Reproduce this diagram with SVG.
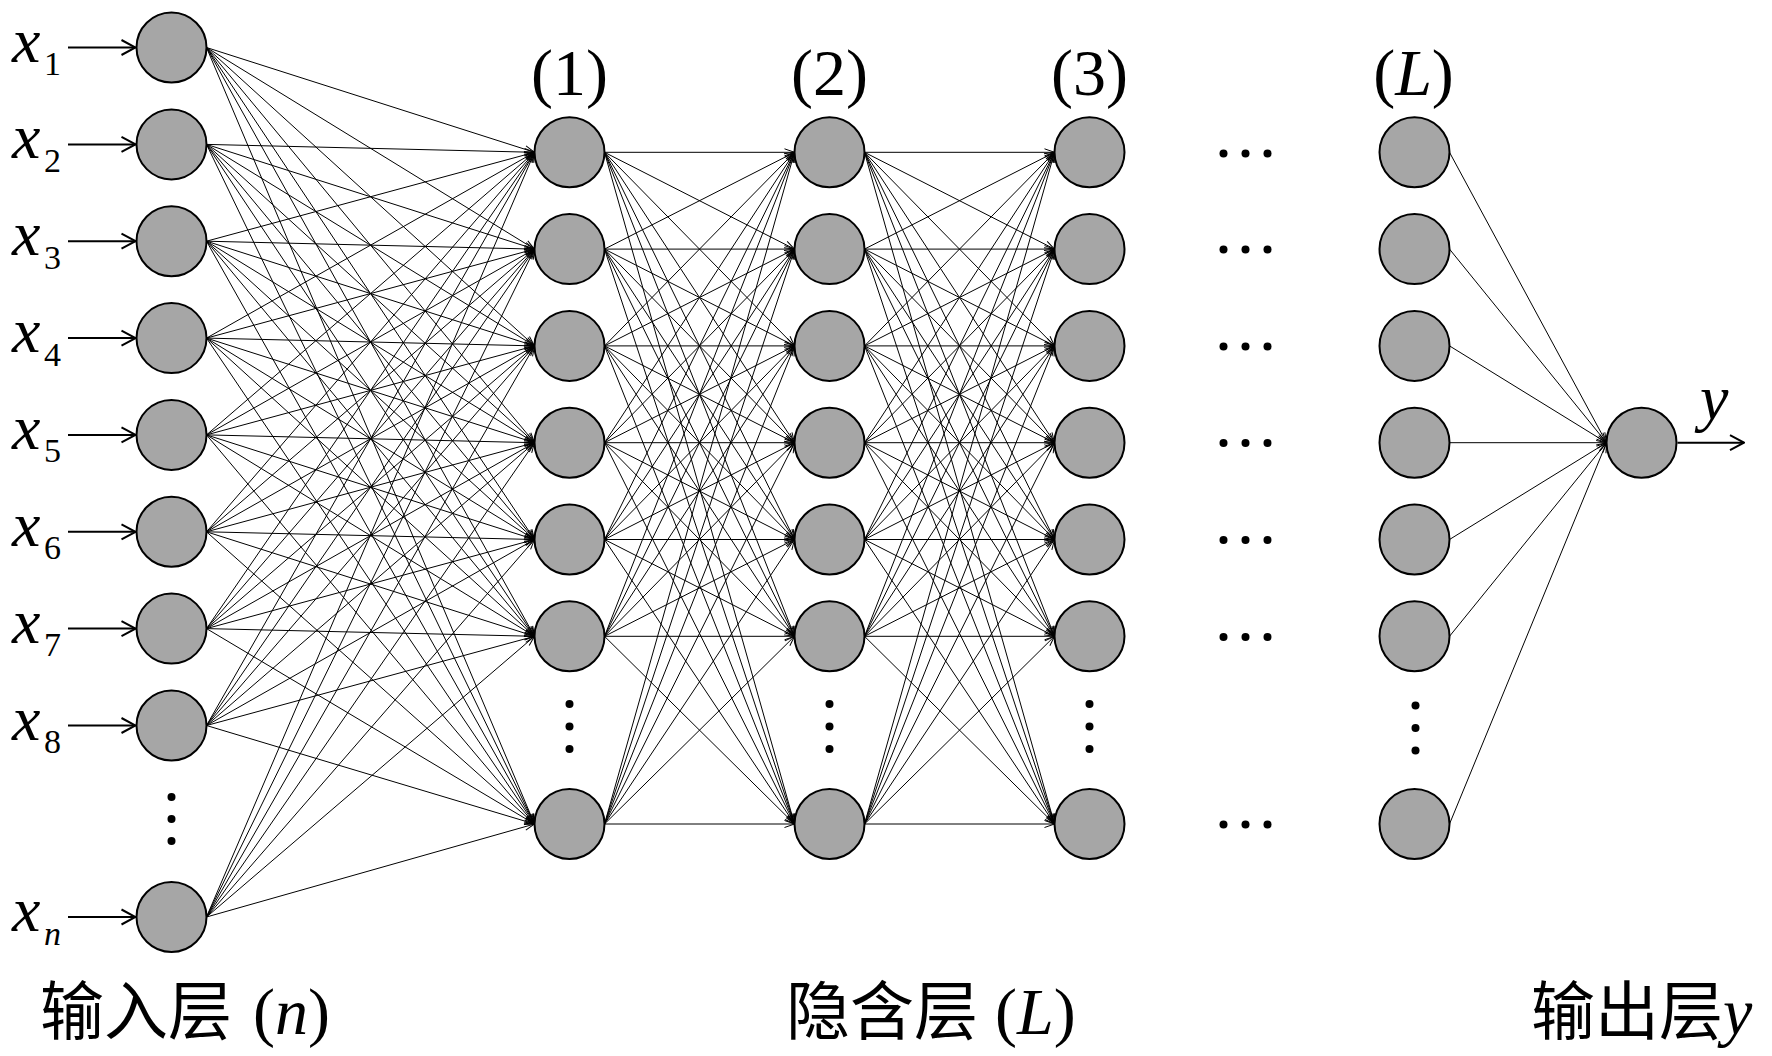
<svg xmlns="http://www.w3.org/2000/svg" width="1772" height="1056" viewBox="0 0 1772 1056">
<style>
.nd{fill:#a6a6a6;stroke:#000;stroke-width:2}
.cn path{fill:none;stroke:#000;stroke-width:1;marker-end:url(#ah)}
.ia{stroke:#000;stroke-width:2;marker-end:url(#ab)}
.lx{font-family:"Liberation Serif",serif;font-size:64px;font-style:italic;fill:#000}
.sb{font-family:"Liberation Serif",serif;font-size:34px;font-style:normal}
.hl{font-family:"Liberation Serif",serif;font-size:66px;fill:#000;text-anchor:middle}
.cjk{font-family:"Noto Sans CJK SC",sans-serif;font-size:64px}
.ser{font-family:"Liberation Serif",serif;font-size:66px}
.it{font-style:italic}
.dt{fill:#000}
</style>
<defs>
<marker id="ah" markerUnits="userSpaceOnUse" markerWidth="12" markerHeight="10" refX="11" refY="5" orient="auto" viewBox="0 0 12 10"><path d="M1,1.5 L11,5 L1,8.5" fill="none" stroke="#000" stroke-width="1"/></marker>
<marker id="ab" markerUnits="userSpaceOnUse" markerWidth="16" markerHeight="18" refX="15" refY="9" orient="auto" viewBox="0 0 16 18"><path d="M1,1.5 L15,9 L1,16.5" fill="none" stroke="#000" stroke-width="2"/></marker>
</defs>
<g id="connectors" class="cn">
<path d="M206.5,47.5 534.5,152.3"/><path d="M206.5,47.5 534.5,249.1"/><path d="M206.5,47.5 534.5,345.9"/><path d="M206.5,47.5 534.5,442.7"/><path d="M206.5,47.5 534.5,539.5"/><path d="M206.5,47.5 534.5,636.3"/><path d="M206.5,47.5 534.5,824"/>
<path d="M206.5,144.4 534.5,152.3"/><path d="M206.5,144.4 534.5,249.1"/><path d="M206.5,144.4 534.5,345.9"/><path d="M206.5,144.4 534.5,442.7"/><path d="M206.5,144.4 534.5,539.5"/><path d="M206.5,144.4 534.5,636.3"/><path d="M206.5,144.4 534.5,824"/>
<path d="M206.5,241.2 534.5,152.3"/><path d="M206.5,241.2 534.5,249.1"/><path d="M206.5,241.2 534.5,345.9"/><path d="M206.5,241.2 534.5,442.7"/><path d="M206.5,241.2 534.5,539.5"/><path d="M206.5,241.2 534.5,636.3"/><path d="M206.5,241.2 534.5,824"/>
<path d="M206.5,338.1 534.5,152.3"/><path d="M206.5,338.1 534.5,249.1"/><path d="M206.5,338.1 534.5,345.9"/><path d="M206.5,338.1 534.5,442.7"/><path d="M206.5,338.1 534.5,539.5"/><path d="M206.5,338.1 534.5,636.3"/><path d="M206.5,338.1 534.5,824"/>
<path d="M206.5,434.9 534.5,152.3"/><path d="M206.5,434.9 534.5,249.1"/><path d="M206.5,434.9 534.5,345.9"/><path d="M206.5,434.9 534.5,442.7"/><path d="M206.5,434.9 534.5,539.5"/><path d="M206.5,434.9 534.5,636.3"/><path d="M206.5,434.9 534.5,824"/>
<path d="M206.5,531.8 534.5,152.3"/><path d="M206.5,531.8 534.5,249.1"/><path d="M206.5,531.8 534.5,345.9"/><path d="M206.5,531.8 534.5,442.7"/><path d="M206.5,531.8 534.5,539.5"/><path d="M206.5,531.8 534.5,636.3"/><path d="M206.5,531.8 534.5,824"/>
<path d="M206.5,628.6 534.5,152.3"/><path d="M206.5,628.6 534.5,249.1"/><path d="M206.5,628.6 534.5,345.9"/><path d="M206.5,628.6 534.5,442.7"/><path d="M206.5,628.6 534.5,539.5"/><path d="M206.5,628.6 534.5,636.3"/><path d="M206.5,628.6 534.5,824"/>
<path d="M206.5,725.5 534.5,152.3"/><path d="M206.5,725.5 534.5,249.1"/><path d="M206.5,725.5 534.5,345.9"/><path d="M206.5,725.5 534.5,442.7"/><path d="M206.5,725.5 534.5,539.5"/><path d="M206.5,725.5 534.5,636.3"/><path d="M206.5,725.5 534.5,824"/>
<path d="M206.5,917 534.5,152.3"/><path d="M206.5,917 534.5,249.1"/><path d="M206.5,917 534.5,345.9"/><path d="M206.5,917 534.5,442.7"/><path d="M206.5,917 534.5,539.5"/><path d="M206.5,917 534.5,636.3"/><path d="M206.5,917 534.5,824"/>

<path d="M604.5,152.3 794.5,152.3"/><path d="M604.5,152.3 794.5,249.1"/><path d="M604.5,152.3 794.5,345.9"/><path d="M604.5,152.3 794.5,442.7"/><path d="M604.5,152.3 794.5,539.5"/><path d="M604.5,152.3 794.5,636.3"/><path d="M604.5,152.3 794.5,824"/>
<path d="M604.5,249.1 794.5,152.3"/><path d="M604.5,249.1 794.5,249.1"/><path d="M604.5,249.1 794.5,345.9"/><path d="M604.5,249.1 794.5,442.7"/><path d="M604.5,249.1 794.5,539.5"/><path d="M604.5,249.1 794.5,636.3"/><path d="M604.5,249.1 794.5,824"/>
<path d="M604.5,345.9 794.5,152.3"/><path d="M604.5,345.9 794.5,249.1"/><path d="M604.5,345.9 794.5,345.9"/><path d="M604.5,345.9 794.5,442.7"/><path d="M604.5,345.9 794.5,539.5"/><path d="M604.5,345.9 794.5,636.3"/><path d="M604.5,345.9 794.5,824"/>
<path d="M604.5,442.7 794.5,152.3"/><path d="M604.5,442.7 794.5,249.1"/><path d="M604.5,442.7 794.5,345.9"/><path d="M604.5,442.7 794.5,442.7"/><path d="M604.5,442.7 794.5,539.5"/><path d="M604.5,442.7 794.5,636.3"/><path d="M604.5,442.7 794.5,824"/>
<path d="M604.5,539.5 794.5,152.3"/><path d="M604.5,539.5 794.5,249.1"/><path d="M604.5,539.5 794.5,345.9"/><path d="M604.5,539.5 794.5,442.7"/><path d="M604.5,539.5 794.5,539.5"/><path d="M604.5,539.5 794.5,636.3"/><path d="M604.5,539.5 794.5,824"/>
<path d="M604.5,636.3 794.5,152.3"/><path d="M604.5,636.3 794.5,249.1"/><path d="M604.5,636.3 794.5,345.9"/><path d="M604.5,636.3 794.5,442.7"/><path d="M604.5,636.3 794.5,539.5"/><path d="M604.5,636.3 794.5,636.3"/><path d="M604.5,636.3 794.5,824"/>
<path d="M604.5,824 794.5,152.3"/><path d="M604.5,824 794.5,249.1"/><path d="M604.5,824 794.5,345.9"/><path d="M604.5,824 794.5,442.7"/><path d="M604.5,824 794.5,539.5"/><path d="M604.5,824 794.5,636.3"/><path d="M604.5,824 794.5,824"/>

<path d="M864.5,152.3 1054.5,152.3"/><path d="M864.5,152.3 1054.5,249.1"/><path d="M864.5,152.3 1054.5,345.9"/><path d="M864.5,152.3 1054.5,442.7"/><path d="M864.5,152.3 1054.5,539.5"/><path d="M864.5,152.3 1054.5,636.3"/><path d="M864.5,152.3 1054.5,824"/>
<path d="M864.5,249.1 1054.5,152.3"/><path d="M864.5,249.1 1054.5,249.1"/><path d="M864.5,249.1 1054.5,345.9"/><path d="M864.5,249.1 1054.5,442.7"/><path d="M864.5,249.1 1054.5,539.5"/><path d="M864.5,249.1 1054.5,636.3"/><path d="M864.5,249.1 1054.5,824"/>
<path d="M864.5,345.9 1054.5,152.3"/><path d="M864.5,345.9 1054.5,249.1"/><path d="M864.5,345.9 1054.5,345.9"/><path d="M864.5,345.9 1054.5,442.7"/><path d="M864.5,345.9 1054.5,539.5"/><path d="M864.5,345.9 1054.5,636.3"/><path d="M864.5,345.9 1054.5,824"/>
<path d="M864.5,442.7 1054.5,152.3"/><path d="M864.5,442.7 1054.5,249.1"/><path d="M864.5,442.7 1054.5,345.9"/><path d="M864.5,442.7 1054.5,442.7"/><path d="M864.5,442.7 1054.5,539.5"/><path d="M864.5,442.7 1054.5,636.3"/><path d="M864.5,442.7 1054.5,824"/>
<path d="M864.5,539.5 1054.5,152.3"/><path d="M864.5,539.5 1054.5,249.1"/><path d="M864.5,539.5 1054.5,345.9"/><path d="M864.5,539.5 1054.5,442.7"/><path d="M864.5,539.5 1054.5,539.5"/><path d="M864.5,539.5 1054.5,636.3"/><path d="M864.5,539.5 1054.5,824"/>
<path d="M864.5,636.3 1054.5,152.3"/><path d="M864.5,636.3 1054.5,249.1"/><path d="M864.5,636.3 1054.5,345.9"/><path d="M864.5,636.3 1054.5,442.7"/><path d="M864.5,636.3 1054.5,539.5"/><path d="M864.5,636.3 1054.5,636.3"/><path d="M864.5,636.3 1054.5,824"/>
<path d="M864.5,824 1054.5,152.3"/><path d="M864.5,824 1054.5,249.1"/><path d="M864.5,824 1054.5,345.9"/><path d="M864.5,824 1054.5,442.7"/><path d="M864.5,824 1054.5,539.5"/><path d="M864.5,824 1054.5,636.3"/><path d="M864.5,824 1054.5,824"/>

<path d="M1449.5,152.3 1606.5,442.7"/><path d="M1449.5,249.1 1606.5,442.7"/><path d="M1449.5,345.9 1606.5,442.7"/><path d="M1449.5,442.7 1606.5,442.7"/><path d="M1449.5,539.5 1606.5,442.7"/><path d="M1449.5,636.3 1606.5,442.7"/><path d="M1449.5,824 1606.5,442.7"/>
</g>
<g id="input-arrows">
<line class="ia" x1="68" y1="47.5" x2="135.5" y2="47.5"/>
<line class="ia" x1="68" y1="144.4" x2="135.5" y2="144.4"/>
<line class="ia" x1="68" y1="241.2" x2="135.5" y2="241.2"/>
<line class="ia" x1="68" y1="338.1" x2="135.5" y2="338.1"/>
<line class="ia" x1="68" y1="434.9" x2="135.5" y2="434.9"/>
<line class="ia" x1="68" y1="531.8" x2="135.5" y2="531.8"/>
<line class="ia" x1="68" y1="628.6" x2="135.5" y2="628.6"/>
<line class="ia" x1="68" y1="725.5" x2="135.5" y2="725.5"/>
<line class="ia" x1="68" y1="917" x2="135.5" y2="917"/>
<line class="ia" x1="1677.5" y1="442.7" x2="1744" y2="442.7"/>
</g>
<g id="input-layer">
<g id="in1"><circle class="nd" cx="171.5" cy="47.5" r="35"/><text class="lx" x="12" y="61.5">x<tspan class="sb" x="44" y="75">1</tspan></text></g>
<g id="in2"><circle class="nd" cx="171.5" cy="144.4" r="35"/><text class="lx" x="12" y="158.4">x<tspan class="sb" x="44" y="171.9">2</tspan></text></g>
<g id="in3"><circle class="nd" cx="171.5" cy="241.2" r="35"/><text class="lx" x="12" y="255.2">x<tspan class="sb" x="44" y="268.7">3</tspan></text></g>
<g id="in4"><circle class="nd" cx="171.5" cy="338.1" r="35"/><text class="lx" x="12" y="352.1">x<tspan class="sb" x="44" y="365.6">4</tspan></text></g>
<g id="in5"><circle class="nd" cx="171.5" cy="434.9" r="35"/><text class="lx" x="12" y="448.9">x<tspan class="sb" x="44" y="462.4">5</tspan></text></g>
<g id="in6"><circle class="nd" cx="171.5" cy="531.8" r="35"/><text class="lx" x="12" y="545.8">x<tspan class="sb" x="44" y="559.3">6</tspan></text></g>
<g id="in7"><circle class="nd" cx="171.5" cy="628.6" r="35"/><text class="lx" x="12" y="642.6">x<tspan class="sb" x="44" y="656.1">7</tspan></text></g>
<g id="in8"><circle class="nd" cx="171.5" cy="725.5" r="35"/><text class="lx" x="12" y="739.5">x<tspan class="sb" x="44" y="753">8</tspan></text></g>
<g id="inn"><circle class="nd" cx="171.5" cy="917" r="35"/><text class="lx" x="12" y="931">x<tspan class="sb it" x="44" y="944.5">n</tspan></text></g>
<g id="in-dots" class="dt"><circle cx="171.5" cy="797" r="4"/><circle cx="171.5" cy="819" r="4"/><circle cx="171.5" cy="841" r="4"/></g>
</g>
<g id="hidden1">
<text class="hl" x="569.5" y="95">(1)</text>
<circle class="nd" cx="569.5" cy="152.3" r="35"/><circle class="nd" cx="569.5" cy="249.1" r="35"/><circle class="nd" cx="569.5" cy="345.9" r="35"/><circle class="nd" cx="569.5" cy="442.7" r="35"/><circle class="nd" cx="569.5" cy="539.5" r="35"/><circle class="nd" cx="569.5" cy="636.3" r="35"/><circle class="nd" cx="569.5" cy="824" r="35"/>
<g class="dt"><circle cx="569.5" cy="704" r="4"/><circle cx="569.5" cy="726.5" r="4"/><circle cx="569.5" cy="749" r="4"/></g>
</g>
<g id="hidden2">
<text class="hl" x="829.5" y="95">(2)</text>
<circle class="nd" cx="829.5" cy="152.3" r="35"/><circle class="nd" cx="829.5" cy="249.1" r="35"/><circle class="nd" cx="829.5" cy="345.9" r="35"/><circle class="nd" cx="829.5" cy="442.7" r="35"/><circle class="nd" cx="829.5" cy="539.5" r="35"/><circle class="nd" cx="829.5" cy="636.3" r="35"/><circle class="nd" cx="829.5" cy="824" r="35"/>
<g class="dt"><circle cx="829.5" cy="704" r="4"/><circle cx="829.5" cy="726.5" r="4"/><circle cx="829.5" cy="749" r="4"/></g>
</g>
<g id="hidden3">
<text class="hl" x="1089.5" y="95">(3)</text>
<circle class="nd" cx="1089.5" cy="152.3" r="35"/><circle class="nd" cx="1089.5" cy="249.1" r="35"/><circle class="nd" cx="1089.5" cy="345.9" r="35"/><circle class="nd" cx="1089.5" cy="442.7" r="35"/><circle class="nd" cx="1089.5" cy="539.5" r="35"/><circle class="nd" cx="1089.5" cy="636.3" r="35"/><circle class="nd" cx="1089.5" cy="824" r="35"/>
<g class="dt"><circle cx="1089.5" cy="704" r="4"/><circle cx="1089.5" cy="726.5" r="4"/><circle cx="1089.5" cy="749" r="4"/></g>
</g>
<g id="ellipses" class="dt">
<circle cx="1223.5" cy="153.5" r="4"/><circle cx="1245.5" cy="153.5" r="4"/><circle cx="1267.5" cy="153.5" r="4"/>
<circle cx="1223.5" cy="249.5" r="4"/><circle cx="1245.5" cy="249.5" r="4"/><circle cx="1267.5" cy="249.5" r="4"/>
<circle cx="1223.5" cy="346.5" r="4"/><circle cx="1245.5" cy="346.5" r="4"/><circle cx="1267.5" cy="346.5" r="4"/>
<circle cx="1223.5" cy="443" r="4"/><circle cx="1245.5" cy="443" r="4"/><circle cx="1267.5" cy="443" r="4"/>
<circle cx="1223.5" cy="540" r="4"/><circle cx="1245.5" cy="540" r="4"/><circle cx="1267.5" cy="540" r="4"/>
<circle cx="1223.5" cy="637" r="4"/><circle cx="1245.5" cy="637" r="4"/><circle cx="1267.5" cy="637" r="4"/>
<circle cx="1223.5" cy="824.5" r="4"/><circle cx="1245.5" cy="824.5" r="4"/><circle cx="1267.5" cy="824.5" r="4"/>
</g>
<g id="hiddenL">
<text class="hl" x="1413.5" y="95">(<tspan class="it">L</tspan>)</text>
<circle class="nd" cx="1414.5" cy="152.3" r="35"/><circle class="nd" cx="1414.5" cy="249.1" r="35"/><circle class="nd" cx="1414.5" cy="345.9" r="35"/><circle class="nd" cx="1414.5" cy="442.7" r="35"/><circle class="nd" cx="1414.5" cy="539.5" r="35"/><circle class="nd" cx="1414.5" cy="636.3" r="35"/><circle class="nd" cx="1414.5" cy="824" r="35"/>
<g class="dt"><circle cx="1415.5" cy="705.5" r="4"/><circle cx="1415.5" cy="728" r="4"/><circle cx="1415.5" cy="750.5" r="4"/></g>
</g>
<g id="output">
<circle class="nd" cx="1641.5" cy="442.7" r="35"/>
<text class="lx" x="1700" y="419">y</text>
</g>
<g id="captions" fill="#000">
<text y="1034"><tspan class="cjk" x="40">输入层</tspan><tspan class="ser" x="253">(<tspan class="it">n</tspan>)</tspan></text>
<text y="1034"><tspan class="cjk" x="786">隐含层</tspan><tspan class="ser" x="995">(<tspan class="it">L</tspan>)</tspan></text>
<text y="1034"><tspan class="cjk" x="1531">输出层</tspan><tspan class="ser it" x="1723">y</tspan></text>
</g>
</svg>
